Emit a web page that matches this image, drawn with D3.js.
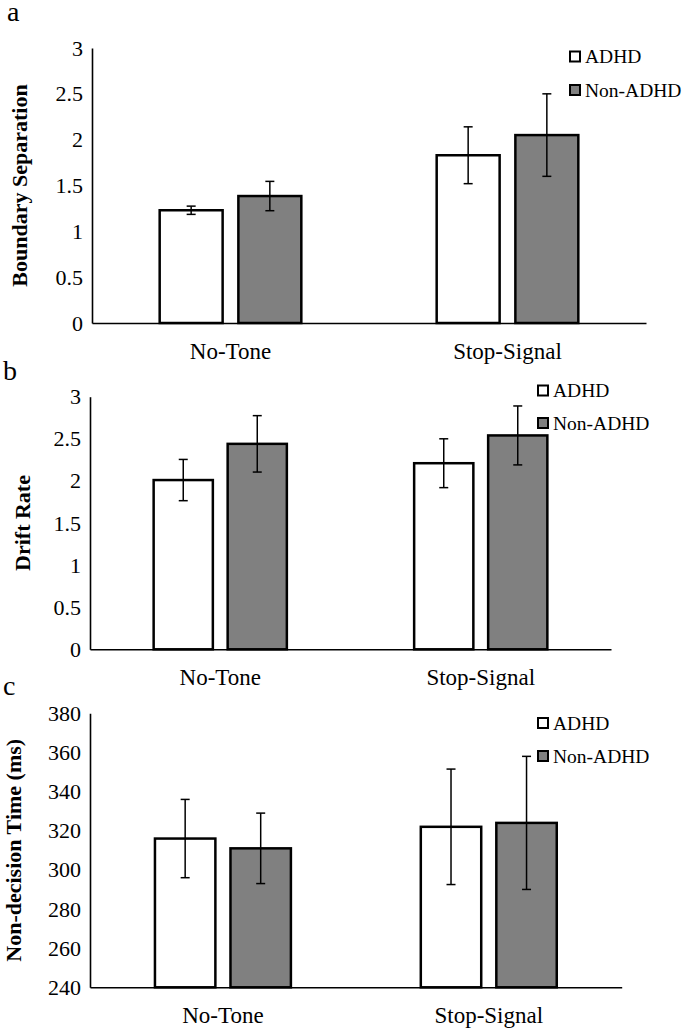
<!DOCTYPE html>
<html>
<head>
<meta charset="utf-8">
<script src="https://cdn.jsdelivr.net/npm/d3@7"></script>
<style>
  html, body { margin: 0; padding: 0; background: #fff; }
  svg { display: block; }
  svg text { font-family: "Times New Roman", Times, "Liberation Serif", "DejaVu Serif", serif !important; fill: #000; }
</style>
</head>
<body>
<svg id="chart" width="685" height="1029"></svg>
<script>
// ---- data ----
const categories = ["No-Tone", "Stop-Signal"];
const groups = ["ADHD", "Non-ADHD"];
const groupFills = ["#ffffff", "#808080"];

// Panel a: Boundary Separation
const boundaryADHD = [1.23, 1.83];
const boundaryADHDErr = [0.045, 0.31];
const boundaryNonADHD = [1.385, 2.05];
const boundaryNonADHDErr = [0.16, 0.45];
const boundaryTicks = [0, 0.5, 1, 1.5, 2, 2.5, 3];

// Panel b: Drift Rate
const driftADHD = [2.01, 2.21];
const driftADHDErr = [0.245, 0.29];
const driftNonADHD = [2.44, 2.54];
const driftNonADHDErr = [0.335, 0.35];
const driftTicks = [0, 0.5, 1, 1.5, 2, 2.5, 3];

// Panel c: Non-decision Time (ms)
const ndtADHD = [316, 322];
const ndtADHDErr = [20, 29.5];
const ndtNonADHD = [311, 324];
const ndtNonADHDErr = [18, 34];
const ndtTicks = [240, 260, 280, 300, 320, 340, 360, 380];

const panels = [
  { letter: "a", ylabel: "Boundary Separation", values: [boundaryADHD, boundaryNonADHD],
    errs: [boundaryADHDErr, boundaryNonADHDErr], ticks: boundaryTicks,
    left: 92, right: 646, top: 48, bottom: 323,
    letterPos: [7, 21], ylabX: 27, legX: 570, legY: [51.5, 85] },
  { letter: "b", ylabel: "Drift Rate", values: [driftADHD, driftNonADHD],
    errs: [driftADHDErr, driftNonADHDErr], ticks: driftTicks,
    left: 90, right: 611, top: 396.7, bottom: 649.3,
    letterPos: [3, 380], ylabX: 30, legX: 538, legY: [385.5, 418] },
  { letter: "c", ylabel: "Non-decision Time (ms)", values: [ndtADHD, ndtNonADHD],
    errs: [ndtADHDErr, ndtNonADHDErr], ticks: ndtTicks,
    left: 90, right: 621.7, top: 713.3, bottom: 987.3,
    letterPos: [3, 695], ylabX: 21, legX: 538, legY: [718, 751] }
];

const svg = d3.select("#chart");

panels.forEach(p => {
  const g = svg.append("g");
  const tickExtent = d3.extent(p.ticks);
  const y = d3.scaleLinear().domain(tickExtent).range([p.bottom, p.top]);
  const x0 = d3.scaleBand().domain(categories).range([p.left, p.right]).padding(0);
  const x1 = d3.scaleBand().domain(groups).range([0, x0.bandwidth()])
    .paddingInner(0.2).paddingOuter(0.86);

  // y axis
  const yAxis = d3.axisLeft(y).tickValues(p.ticks).tickSize(0).tickPadding(9)
    .tickFormat(d3.format(""));
  const ya = g.append("g").attr("transform", `translate(${p.left},0)`).call(yAxis);
  ya.attr("font-family", null);
  ya.select(".domain").attr("stroke", "#000").attr("stroke-width", 1.6);
  ya.selectAll("text").style("font-size", "22px").attr("fill", "#000");

  // x axis
  const xAxis = d3.axisBottom(x0).tickSize(0).tickPadding(0);
  const xa = g.append("g").attr("transform", `translate(0,${p.bottom})`).call(xAxis);
  xa.attr("font-family", null);
  xa.select(".domain").attr("stroke", "#000").attr("stroke-width", 1.6);
  xa.selectAll("text").style("font-size", "23px").attr("fill", "#000")
    .attr("dy", null).attr("y", 36);

  // bars
  groups.forEach((grp, gi) => {
    const data = categories.map((c, ci) => ({ c, v: p.values[gi][ci], e: p.errs[gi][ci] }));
    g.selectAll(null).data(data).enter().append("rect")
      .attr("x", d => x0(d.c) + x1(grp))
      .attr("y", d => y(d.v))
      .attr("width", x1.bandwidth())
      .attr("height", d => y(tickExtent[0]) - y(d.v))
      .attr("fill", groupFills[gi])
      .attr("stroke", "#000")
      .attr("stroke-width", 2.5);

    // error bars
    const eg = g.selectAll(null).data(data).enter().append("g")
      .attr("stroke", "#000").attr("stroke-width", 1.5);
    const cx = d => x0(d.c) + x1(grp) + x1.bandwidth() / 2;
    eg.append("line").attr("x1", cx).attr("x2", cx)
      .attr("y1", d => y(d.v + d.e)).attr("y2", d => y(d.v - d.e));
    eg.append("line").attr("x1", d => cx(d) - 4.5).attr("x2", d => cx(d) + 4.5)
      .attr("y1", d => y(d.v + d.e)).attr("y2", d => y(d.v + d.e));
    eg.append("line").attr("x1", d => cx(d) - 4.5).attr("x2", d => cx(d) + 4.5)
      .attr("y1", d => y(d.v - d.e)).attr("y2", d => y(d.v - d.e));
  });

  // y label
  g.append("text")
    .attr("transform", `translate(${p.ylabX},${(p.top + p.bottom) / 2}) rotate(-90)`)
    .attr("text-anchor", "middle")
    .style("font-size", "22px").style("font-weight", "bold")
    .text(p.ylabel);

  // panel letter
  g.append("text").attr("x", p.letterPos[0]).attr("y", p.letterPos[1])
    .style("font-size", "28px").text(p.letter);

  // legend
  groups.forEach((grp, gi) => {
    g.append("rect").attr("x", p.legX).attr("y", p.legY[gi])
      .attr("width", 10).attr("height", 10)
      .attr("fill", groupFills[gi]).attr("stroke", "#000").attr("stroke-width", 2);
    g.append("text").attr("x", p.legX + 15).attr("y", p.legY[gi] + 11.5)
      .style("font-size", "19.5px").text(grp);
  });
});
</script>
</body>
</html>
